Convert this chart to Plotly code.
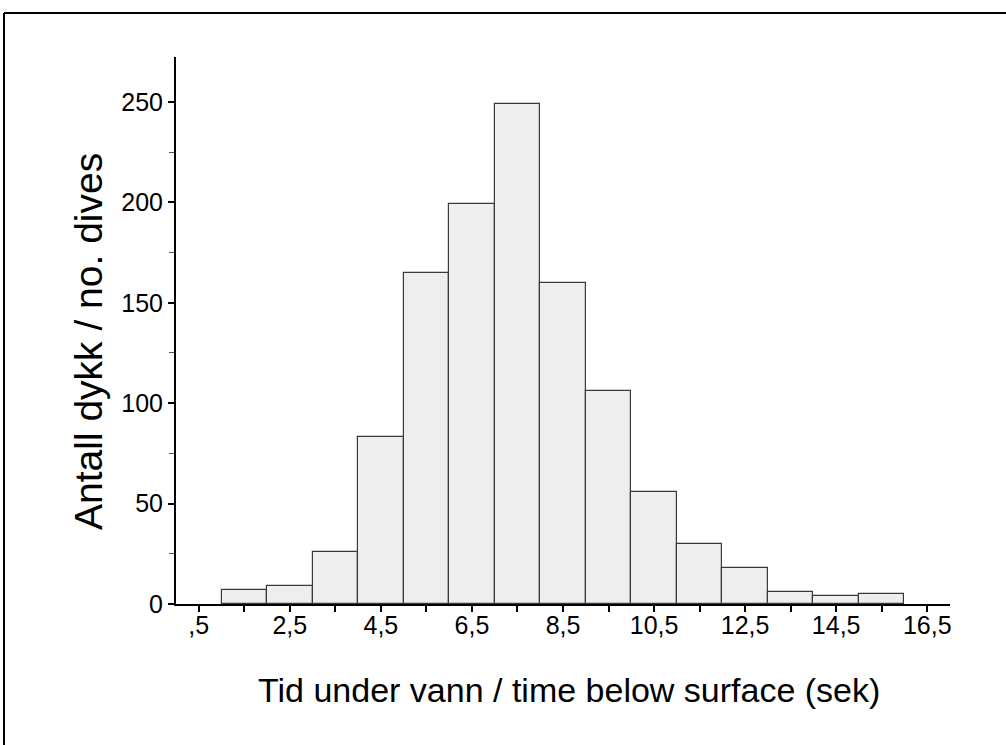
import plotly.graph_objects as go

# Data: histogram of dive durations (bins of 1 s)
bin_centers = [1.5, 2.5, 3.5, 4.5, 5.5, 6.5, 7.5, 8.5, 9.5, 10.5, 11.5, 12.5, 13.5, 14.5, 15.5]
counts = [7, 9, 26, 83, 165, 199, 249, 160, 106, 56, 30, 18, 6, 4, 5]

x_tick_vals = [0.5, 2.5, 4.5, 6.5, 8.5, 10.5, 12.5, 14.5, 16.5]
x_tick_text = [",5", "2,5", "4,5", "6,5", "8,5", "10,5", "12,5", "14,5", "16,5"]
y_tick_vals = [0, 50, 100, 150, 200, 250]

x_title = "Tid under vann / time below surface (sek)"
y_title = "Antall dykk / no. dives"

FONT = "Liberation Sans, Arial, sans-serif"

fig = go.Figure()
fig.add_trace(go.Bar(
    x=bin_centers, y=counts, width=1.0,
    marker=dict(color="#eeeeee", line=dict(color="#3a3a3a", width=1.2)),
))

W, H = 1006, 745
L, R, T, B = 176, 56, 57, 141
pw, ph = W - L - R, H - T - B

fig.update_layout(
    width=W, height=H,
    margin=dict(l=L, r=R, t=T, b=B),
    paper_bgcolor="white", plot_bgcolor="white",
    showlegend=False,
    bargap=0,
    font=dict(family=FONT, color="black"),
    xaxis=dict(
        range=[0, 17], showgrid=False, zeroline=False,
        showline=True, linecolor="black", linewidth=2,
        tickmode="array", tickvals=x_tick_vals, ticktext=x_tick_text,
        ticks="outside", ticklen=6, tickwidth=1.5, tickcolor="black",
        ticklabelstandoff=-8,
        tickfont=dict(size=25, family=FONT),
        minor=dict(tickmode="array", tickvals=[1.5, 3.5, 5.5, 7.5, 9.5, 11.5, 13.5, 15.5],
                   ticks="outside", ticklen=6, tickwidth=1.5, tickcolor="black"),
    ),
    yaxis=dict(
        range=[0, 272.4], showgrid=False, zeroline=False,
        showline=True, linecolor="black", linewidth=2,
        tickmode="array", tickvals=y_tick_vals,
        ticks="outside", ticklen=6, tickwidth=1.5, tickcolor="black",
        tickfont=dict(size=25, family=FONT),
        minor=dict(tickmode="array", tickvals=[25, 75, 125, 175, 225],
                   ticks="outside", ticklen=5, tickwidth=1, tickcolor="#555"),
    ),
    annotations=[
        dict(text=x_title, xref="paper", yref="paper",
             x=(569 - L) / pw, y=-(690 - (T + ph)) / ph,
             showarrow=False, font=dict(size=34, family=FONT),
             xanchor="center", yanchor="middle"),
        dict(text=y_title, xref="paper", yref="paper",
             x=-(L - 88) / pw, y=1 - (342 - T) / ph, textangle=-90,
             showarrow=False, font=dict(size=39, family=FONT),
             xanchor="center", yanchor="middle"),
    ],
    shapes=[
        dict(type="line", xref="paper", yref="paper",
             x0=-(L - 4) / pw, x1=(W + 10 - L) / pw,
             y0=1 + (T - 13) / ph, y1=1 + (T - 13) / ph,
             line=dict(color="black", width=2)),
        dict(type="line", xref="paper", yref="paper",
             x0=-(L - 4) / pw, x1=-(L - 4) / pw,
             y0=1 + (T - 13) / ph, y1=-(H + 10 - T - ph) / ph,
             line=dict(color="black", width=2)),
    ],
)

fig.write_html("out.html")
